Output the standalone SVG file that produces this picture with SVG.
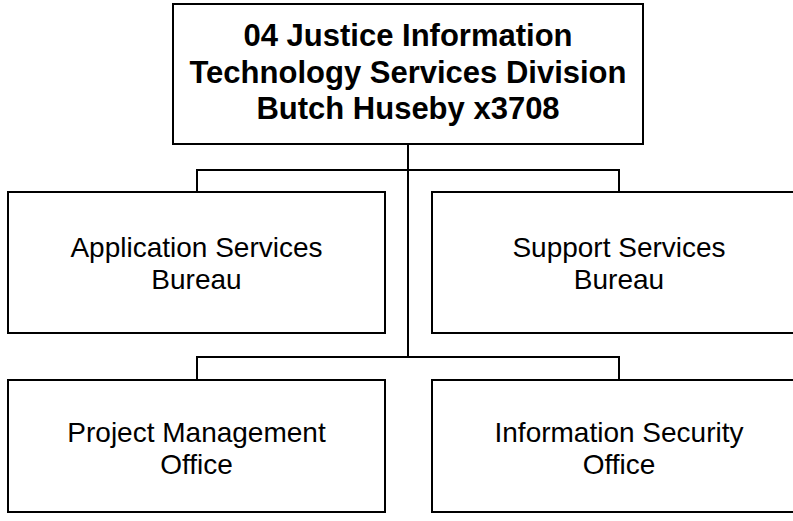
<svg xmlns="http://www.w3.org/2000/svg" width="793" height="521" viewBox="0 0 793 521">
<style>
.box{fill:#fff;stroke:#000;stroke-width:2}
.con{fill:none;stroke:#000;stroke-width:2}
.t{font-family:"Liberation Sans",Arial,sans-serif;font-size:28px;fill:#000;text-anchor:middle}
.tb{font-family:"Liberation Sans",Arial,sans-serif;font-size:31px;font-weight:bold;fill:#000;text-anchor:middle}
</style>
<rect width="793" height="521" fill="#fff"/>
<g id="connectors">
<path class="con" d="M408 144V357M197 192V170H619V192M197 380V357H619V380"/>
</g>
<g id="n0">
<rect class="box" x="173" y="4" width="470" height="140"/>
<text class="tb" x="408" y="46">04 Justice Information</text>
<text class="tb" x="408" y="83">Technology Services Division</text>
<text class="tb" x="408" y="119">Butch Huseby x3708</text>
</g>
<g id="n1">
<rect class="box" x="8" y="192" width="377" height="141"/>
<text class="t" x="196.5" y="257">Application Services</text>
<text class="t" x="196.5" y="289">Bureau</text>
</g>
<g id="n2">
<rect class="box" x="432" y="192" width="375" height="141"/>
<text class="t" x="619" y="257">Support Services</text>
<text class="t" x="619" y="289">Bureau</text>
</g>
<g id="n3">
<rect class="box" x="8" y="380" width="377" height="132"/>
<text class="t" x="196.5" y="442">Project Management</text>
<text class="t" x="196.5" y="474">Office</text>
</g>
<g id="n4">
<rect class="box" x="432" y="380" width="375" height="132"/>
<text class="t" x="619" y="442">Information Security</text>
<text class="t" x="619" y="474">Office</text>
</g>
</svg>
